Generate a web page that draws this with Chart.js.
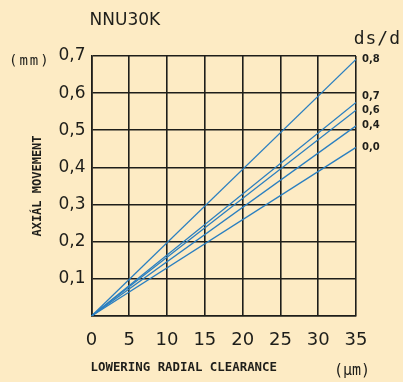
<!DOCTYPE html>
<html>
<head>
<meta charset="utf-8">
<script src="https://cdn.jsdelivr.net/npm/chart.js@4"></script>
<style>
  html, body { margin: 0; padding: 0; background: #fdebc4; }
  #wrap { width: 403px; height: 382px; }
</style>
</head>
<body>
<div id="wrap"><canvas id="chart" width="403" height="382"></canvas></div>
<script>
// ds/d ratios and the axial movement read at 35 um for each
var ratios = ['0,8', '0,7', '0,6', '0,4', '0,0'];
var endValues = [0.691, 0.575, 0.554, 0.512, 0.454];
var clearanceStart = 0;
var clearanceEnd = 35;
var xTicks = [0, 5, 10, 15, 20, 25, 30, 35];
var yTicks = [0, 0.1, 0.2, 0.3, 0.4, 0.5, 0.6, 0.7];

var bg = '#fdebc4';
var ink = '#1e1e1a';
var blue = '#2a7fc0';

// one straight line per ratio, from the origin to the value at 35
var datasets = ratios.map(function(r, i) {
    return {
        label: r,
        data: [{x: clearanceStart, y: 0}, {x: clearanceEnd, y: endValues[i]}],
        borderColor: blue,
        borderWidth: 1.3,
        pointRadius: 0,
        fill: false
    };
});

// extra text: title, axis names, units and line labels
var textPlugin = {
    id: 'texts',
    beforeDraw: function(chart) {
        var ctx = chart.ctx;
        ctx.save();
        ctx.fillStyle = bg;
        ctx.fillRect(0, 0, chart.width, chart.height);
        ctx.restore();
    },
    afterDraw: function(chart) {
        var ctx = chart.ctx;
        var area = chart.chartArea;
        var ys = chart.scales.y;
        ctx.save();
        ctx.fillStyle = ink;
        ctx.textBaseline = 'middle';

        ctx.font = '17px "DejaVu Sans"';
        ctx.textAlign = 'left';
        ctx.fillText('NNU30K', area.left - 2, 21);

        ctx.font = '18px "DejaVu Sans Mono"';
        ctx.textAlign = 'right';
        ctx.letterSpacing = '1px';
        ctx.fillText('ds/d', 401, 39);

        ctx.font = '14px "DejaVu Sans Mono"';
        ctx.letterSpacing = '2px';
        ctx.textAlign = 'left';
        ctx.fillText('(mm)', 9, 61);

        ctx.font = 'bold 12.4px "DejaVu Sans Mono"';
        ctx.letterSpacing = '0px';
        ctx.fillText('LOWERING RADIAL CLEARANCE', area.left - 1, 368);

        ctx.font = '15px "DejaVu Sans Mono"';
        ctx.fillText('(\u03bcm)', 334, 371);

        ctx.save();
        ctx.translate(38, 186);
        ctx.rotate(-Math.PI / 2);
        ctx.textAlign = 'center';
        ctx.font = 'bold 12px "DejaVu Sans Mono"';
        ctx.fillText('AXI\u00c1L MOVEMENT', 0, 0);
        ctx.restore();

        // labels at the right end of each line, pushed apart when they crowd
        ctx.font = 'bold 10px "DejaVu Sans"';
        ctx.textAlign = 'left';
        var prev = null;
        for (var i = ratios.length - 1; i >= 0; i--) {
            var y = ys.getPixelForValue(endValues[i]);
            if (prev !== null && y > prev - 14) y = prev - 14;
            ctx.fillText(ratios[i], area.right + 6, y);
            prev = y;
        }
        ctx.restore();
    }
};

new Chart(document.getElementById('chart'), {
    type: 'line',
    data: { datasets: datasets },
    plugins: [textPlugin],
    options: {
        responsive: false,
        animation: false,
        events: [],
        layout: { padding: { left: 0, top: 56, right: 47, bottom: 0 } },
        plugins: { legend: { display: false }, tooltip: { enabled: false } },
        scales: {
            x: {
                type: 'linear',
                min: xTicks[0],
                max: xTicks[xTicks.length - 1],
                afterBuildTicks: function(s) { s.ticks = xTicks.map(function(v) { return {value: v}; }); },
                afterFit: function(s) { s.height = 66; },
                grid: { color: ink, lineWidth: 1.6, drawTicks: false },
                border: { color: ink, width: 1.6 },
                ticks: {
                    padding: 14,
                    color: ink,
                    maxRotation: 0,
                    font: { family: 'DejaVu Sans', size: 18 }
                }
            },
            y: {
                type: 'linear',
                min: yTicks[0],
                max: yTicks[yTicks.length - 1],
                afterBuildTicks: function(s) { s.ticks = yTicks.map(function(v) { return {value: v}; }); },
                afterFit: function(s) { s.width = 91.5; },
                grid: { color: ink, lineWidth: 1.6, drawTicks: false },
                border: { color: ink, width: 1.6 },
                ticks: {
                    padding: 6,
                    color: ink,
                    font: { family: 'DejaVu Sans', size: 17 },
                    callback: function(v) { return v === 0 ? '' : v.toFixed(1).replace('.', ','); }
                }
            }
        }
    }
});
</script>
</body>
</html>
